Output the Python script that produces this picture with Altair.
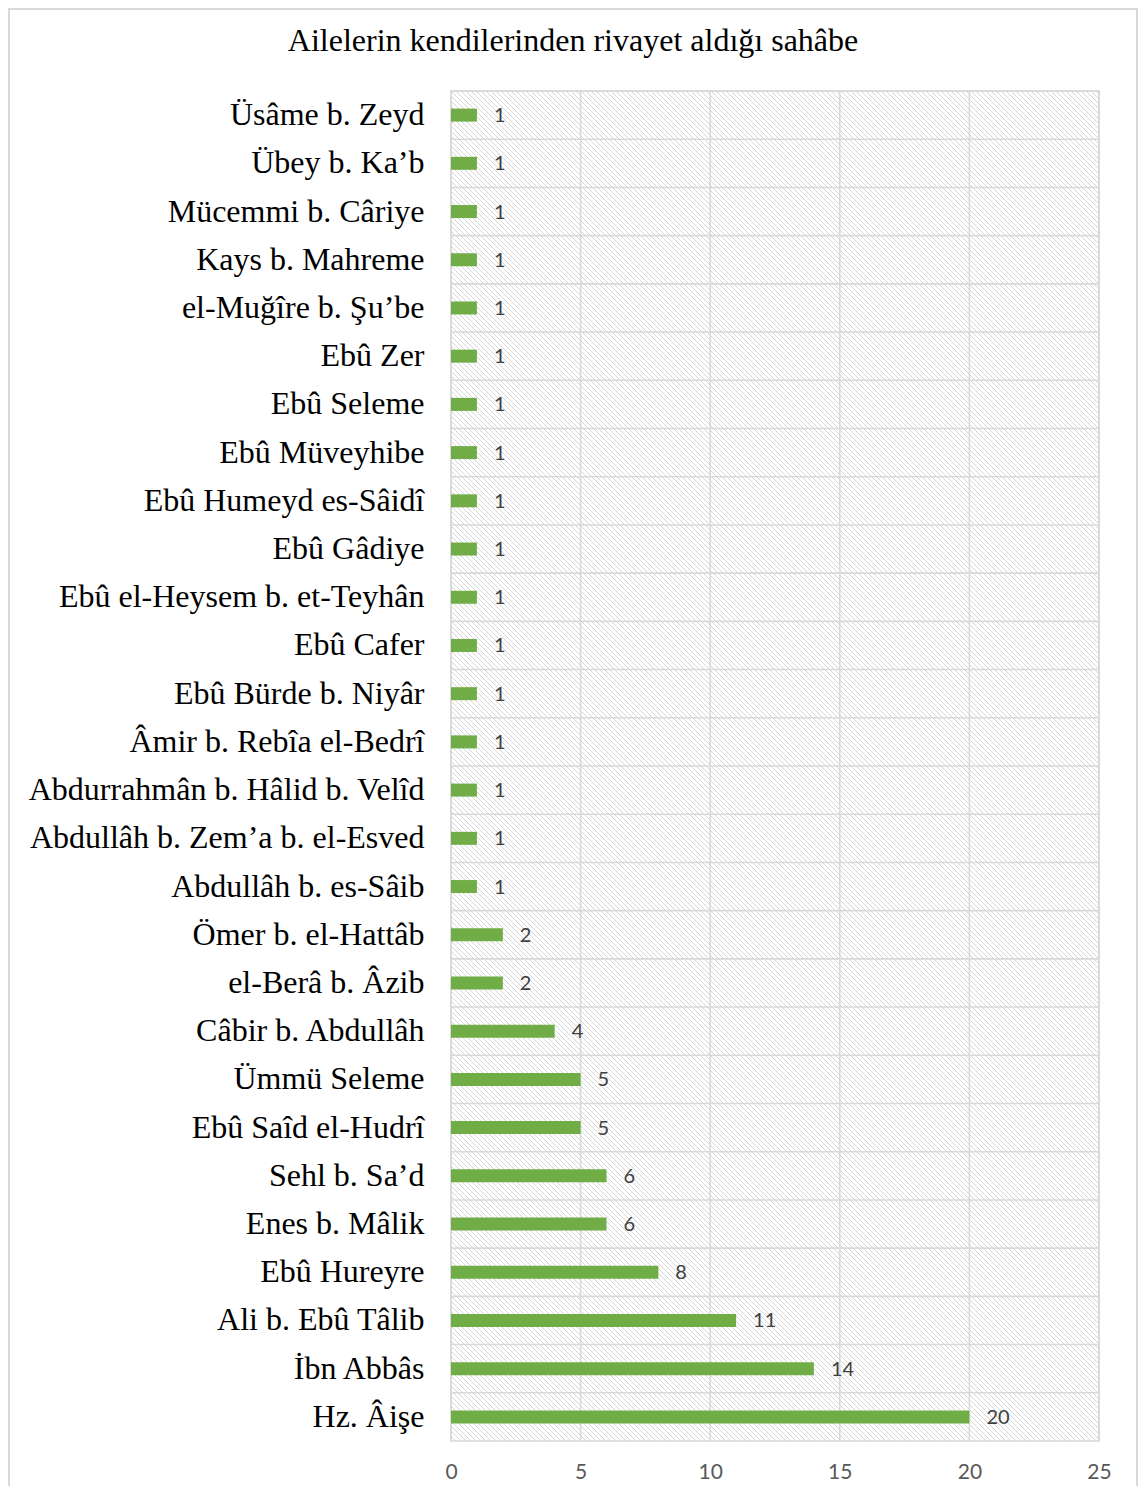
import altair as alt
import pandas as pd

names = ["Üsâme b. Zeyd", "Übey b. Ka’b", "Mücemmi b. Câriye", "Kays b. Mahreme",
         "el-Muğîre b. Şu’be", "Ebû Zer", "Ebû Seleme", "Ebû Müveyhibe",
         "Ebû Humeyd es-Sâidî", "Ebû Gâdiye", "Ebû el-Heysem b. et-Teyhân",
         "Ebû Cafer", "Ebû Bürde b. Niyâr", "Âmir b. Rebîa el-Bedrî",
         "Abdurrahmân b. Hâlid b. Velîd", "Abdullâh b. Zem’a b. el-Esved",
         "Abdullâh b. es-Sâib", "Ömer b. el-Hattâb", "el-Berâ b. Âzib",
         "Câbir b. Abdullâh", "Ümmü Seleme", "Ebû Saîd el-Hudrî", "Sehl b. Sa’d",
         "Enes b. Mâlik", "Ebû Hureyre", "Ali b. Ebû Tâlib", "İbn Abbâs", "Hz. Âişe"]
values = [1, 1, 1, 1, 1, 1, 1, 1, 1, 1, 1, 1, 1, 1, 1, 1, 1,
          2, 2, 4, 5, 5, 6, 6, 8, 11, 14, 20]
x_ticks = [0, 5, 10, 15, 20, 25]
title_text = "Ailelerin kendilerinden rivayet aldığı sahâbe"

W, H = 648, 1350
GRID = "#d9d9d9"

df = pd.DataFrame({"name": names, "value": values})
ticks_df = pd.DataFrame({"t": x_ticks})

yscale = alt.Scale(domain=names, paddingInner=0, paddingOuter=0)
xscale = alt.Scale(domain=[0, 25], nice=False)

xaxis = alt.Axis(values=x_ticks, grid=False, domain=False, ticks=False,
                 labelFont="Lato", labelFontSize=21, labelColor="#595959",
                 labelPadding=20, labelFlush=False, title=None)
yaxis = alt.Axis(grid=False, domain=False, ticks=False, labelFont="Liberation Serif",
                 labelFontSize=32, labelColor="#000000", labelPadding=27,
                 labelLimit=0, title=None)

# hatch texture (decorative background)
hatch = alt.Chart(alt.sequence(-H, W + 10, 5, as_="k")).transform_calculate(
    k2="datum.k + %d" % H
).mark_rule(color="#d6d6d6", strokeWidth=1, clip=True).encode(
    x=alt.X("k:Q", scale=alt.Scale(domain=[0, W], range=[0, W], nice=False, zero=False), axis=None),
    x2="k2:Q",
    y=alt.value(0),
    y2=alt.value(H),
)

vgrid = alt.Chart(ticks_df).mark_rule(color=GRID, strokeWidth=1.6).encode(
    x=alt.X("t:Q", scale=xscale, axis=xaxis)
)
hgrid = alt.Chart(df).mark_rule(color=GRID, strokeWidth=1.6).encode(
    y=alt.Y("name:N", scale=yscale, sort=names, bandPosition=0, axis=yaxis)
)

bars = alt.Chart(df).mark_bar(color="#70ad47", size=13).encode(
    x=alt.X("value:Q", scale=xscale, axis=xaxis),
    y=alt.Y("name:N", scale=yscale, sort=names, axis=yaxis),
)
labels = alt.Chart(df).mark_text(align="left", baseline="middle", dx=17, dy=1,
                                 font="Lato", fontSize=20, color="#404040").encode(
    x=alt.X("value:Q", scale=xscale, axis=xaxis),
    y=alt.Y("name:N", scale=yscale, sort=names, axis=yaxis),
    text="value:Q",
)

frame = alt.Chart(pd.DataFrame({"a": [0]})).mark_rect(
    fill=None, stroke=GRID, strokeWidth=2, clip=False
).encode(
    x=alt.value(-442), x2=alt.value(686), y=alt.value(-82), y2=alt.value(H + 100)
)

main = alt.layer(vgrid, hgrid, bars, labels, frame)

chart = alt.layer(hatch, main).resolve_scale(x="independent", y="independent").properties(
    width=W, height=H,
    autosize=alt.AutoSizeParams(type="none"),
    padding={"left": 443, "top": 83, "right": 39, "bottom": 45},
    title=alt.TitleParams(title_text, font="Liberation Serif", fontSize=32, fontWeight="normal",
                          color="#000000", anchor="middle", dx=-202, offset=-50),
).configure_view(stroke=GRID, strokeWidth=1.6)

chart.save("out.html", embed_options={"renderer": "svg", "actions": False})
